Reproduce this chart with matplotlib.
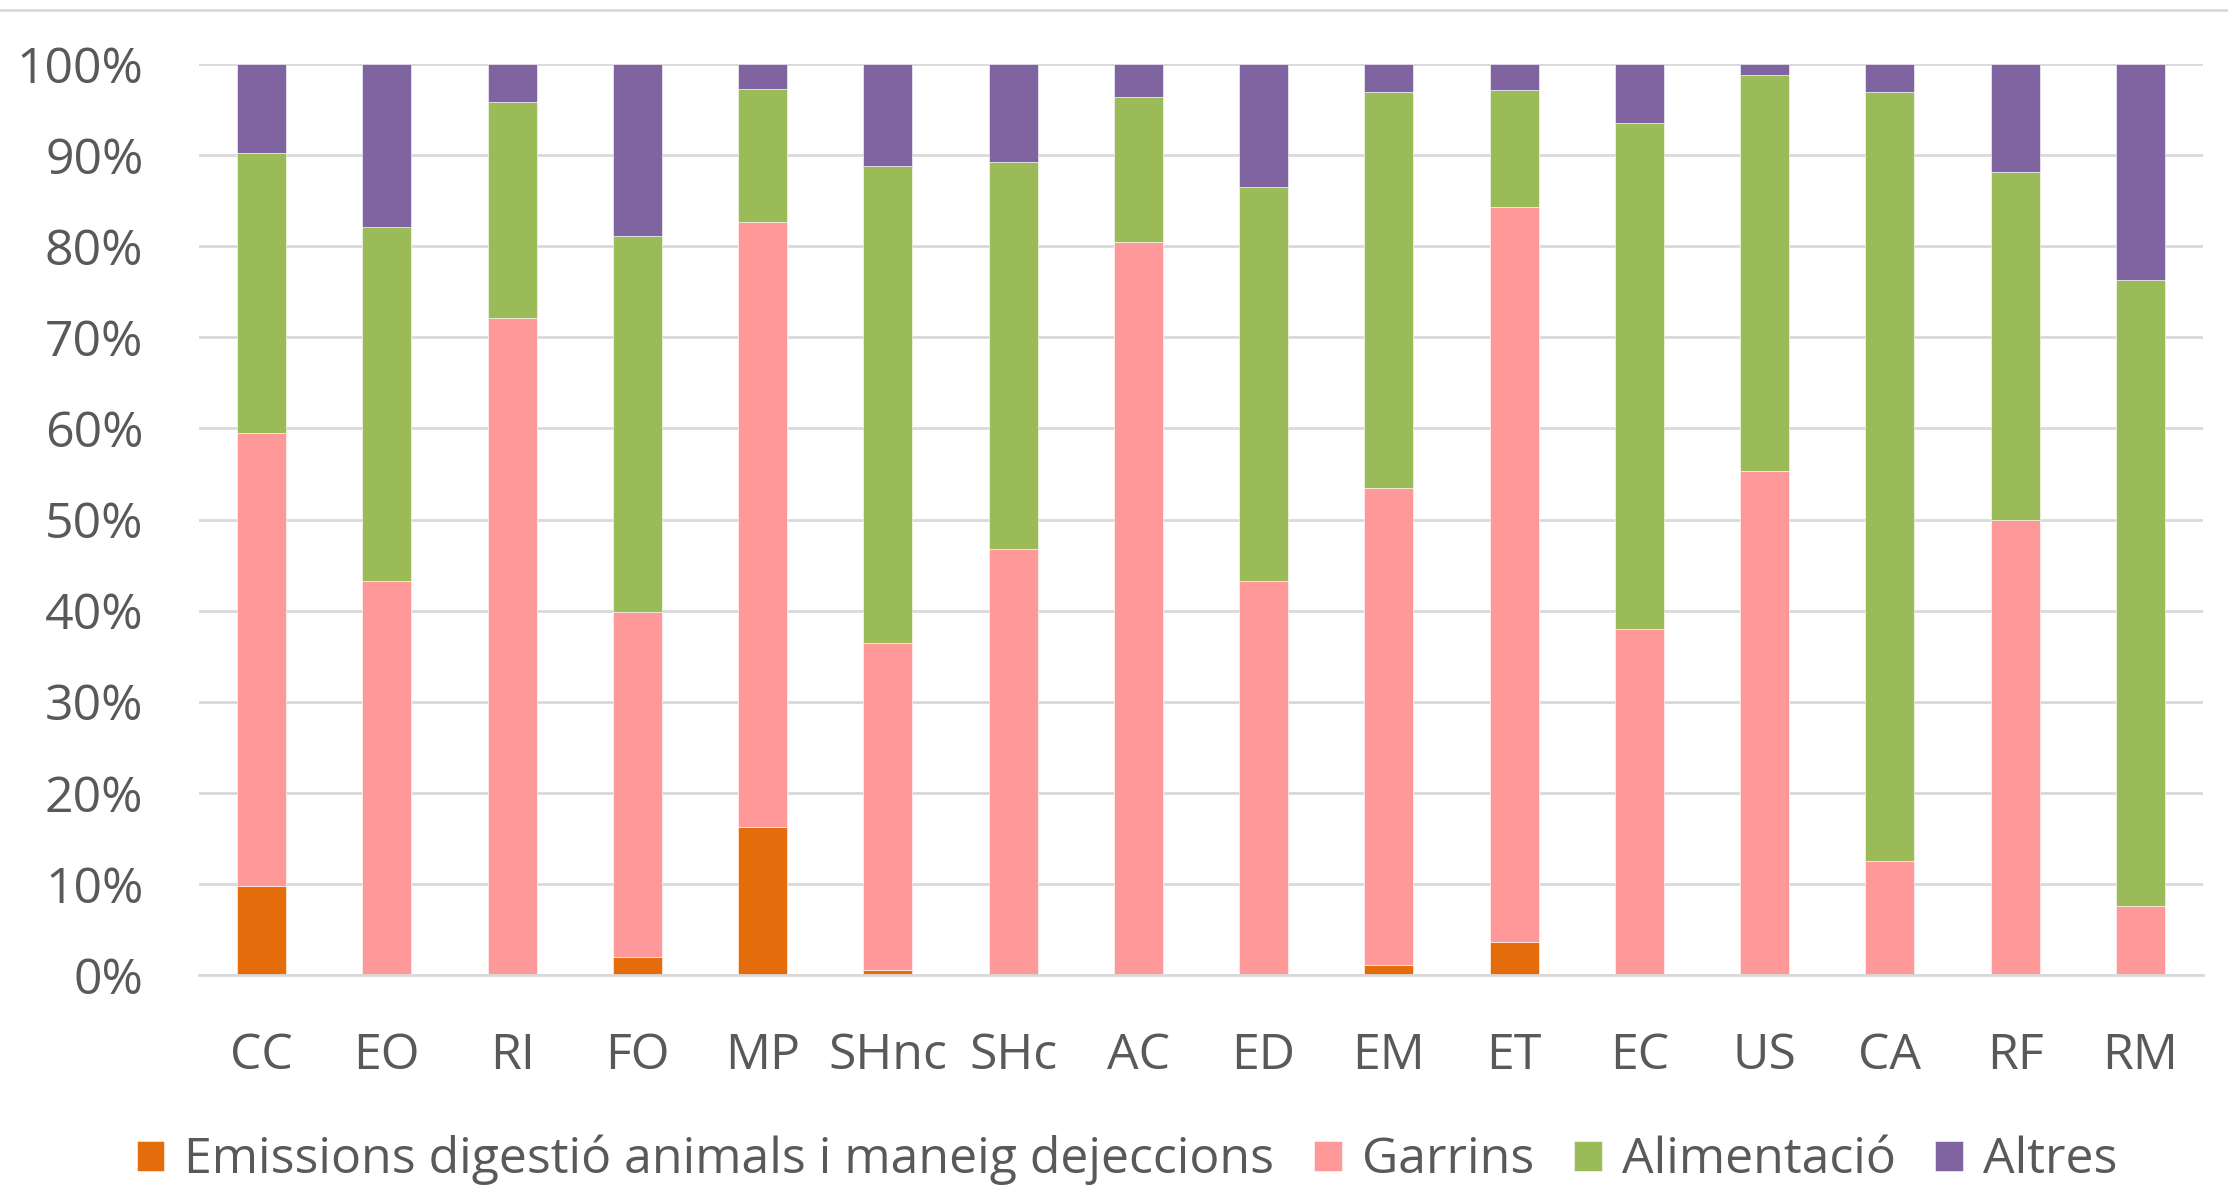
import matplotlib
matplotlib.use("Agg")
import matplotlib.pyplot as plt
from matplotlib.lines import Line2D
from matplotlib.ticker import FuncFormatter
import numpy as np

categories = ["CC", "EO", "RI", "FO", "MP", "SHnc", "SHc", "AC", "ED", "EM", "ET", "EC", "US", "CA", "RF", "RM"]
# cumulative tops (%)
top_emissions = [9.8, 0.0, 0.0, 2.0, 16.3, 0.5, 0.0, 0.0, 0.0, 1.1, 3.6, 0.0, 0.0, 0.0, 0.0, 0.0]
top_garrins   = [59.5, 43.3, 72.1, 39.8, 82.7, 36.4, 46.8, 80.5, 43.3, 53.5, 84.3, 38.0, 55.3, 12.5, 50.0, 7.6]
top_aliment   = [90.2, 82.1, 95.8, 81.1, 97.3, 88.8, 89.2, 96.4, 86.5, 96.9, 97.1, 93.5, 98.8, 96.9, 88.1, 76.3]

emissions = np.array(top_emissions)
garrins = np.array(top_garrins) - np.array(top_emissions)
alimentacio = np.array(top_aliment) - np.array(top_garrins)
altres = 100.0 - np.array(top_aliment)

series_names = ["Emissions digestió animals i maneig dejeccions", "Garrins", "Alimentació", "Altres"]
colors = ["#E46C0A", "#FF9999", "#9BBB59", "#8064A2"]

plt.rcParams['font.family'] = ['Open Sans', 'DejaVu Sans']
text_color = "#595959"
grid_color = "#D9D9D9"

W, H = 2228, 1185
fig = plt.figure(figsize=(W/100, H/100), dpi=100)
ax = fig.add_axes([199/W, 1-975/H, (2203-199)/W, (975-64)/H])

x = np.arange(len(categories))
bottom = np.zeros(len(categories))
for vals, name, c in zip([emissions, garrins, alimentacio, altres], series_names, colors):
    ax.bar(x, vals, width=0.39, bottom=bottom, color=c, label=name, zorder=3,
           edgecolor='white', linewidth=0.4)
    bottom = bottom + vals

ax.set_xlim(-0.5, len(categories)-0.5)
ax.set_ylim(0, 100)
ax.set_yticks(np.arange(0, 101, 10))
ax.yaxis.set_major_formatter(FuncFormatter(lambda v, p: f"{int(v)}%"))
ax.set_xticks(x)
ax.set_xticklabels(categories)
ax.grid(axis='y', color=grid_color, linewidth=2, zorder=0)
for s in ['top', 'right', 'left']:
    ax.spines[s].set_visible(False)
ax.spines['bottom'].set_color(grid_color)
ax.spines['bottom'].set_linewidth(2)
ax.spines['bottom'].set_zorder(4)
ax.tick_params(axis='both', length=0, labelsize=36, colors=text_color)
ax.tick_params(axis='y', pad=40)
ax.tick_params(axis='x', pad=41)

leg = fig.legend(loc='center', bbox_to_anchor=(1127/W, 1-1160/H), ncol=4, frameon=False,
                 fontsize=36, handlelength=0.55, handleheight=0.55, handletextpad=0.4,
                 columnspacing=0.8, labelcolor=text_color, borderpad=0)

fig.add_artist(Line2D([0, 1], [1-10/H, 1-10/H], transform=fig.transFigure, color=grid_color, linewidth=2))

fig.savefig("out.png", dpi=100)
